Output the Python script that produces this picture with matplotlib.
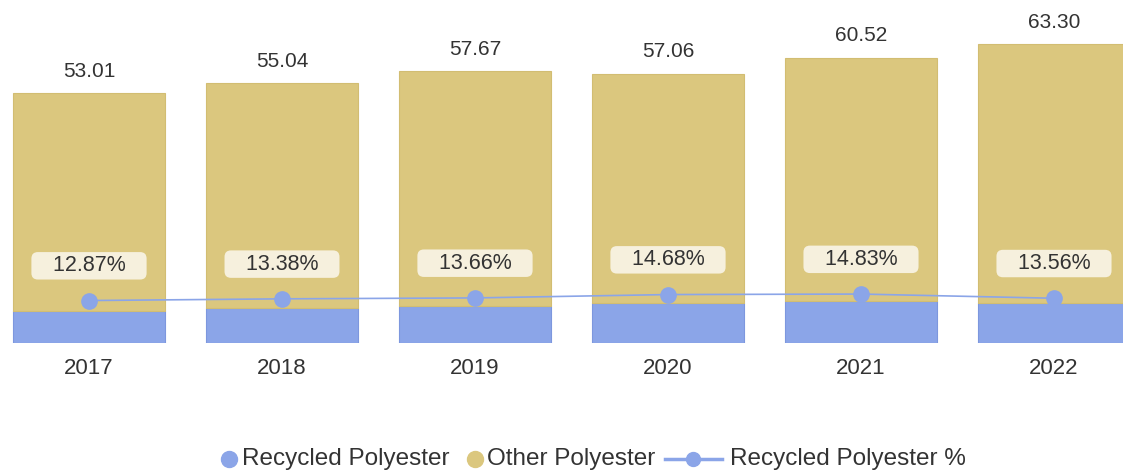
import numpy as np
import matplotlib.pyplot as plt
from matplotlib.lines import Line2D

plt.rcParams['font.family'] = ['Liberation Sans', 'DejaVu Sans']

# Data
years = ['2017', '2018', '2019', '2020', '2021', '2022']
totals = [53.01, 55.04, 57.67, 57.06, 60.52, 63.30]
recycled_pct = [12.87, 13.38, 13.66, 14.68, 14.83, 13.56]
legend_labels = ['Recycled Polyester', 'Other Polyester', 'Recycled Polyester %']

recycled = [t * p / 100 for t, p in zip(totals, recycled_pct)]
other = [t - r for t, r in zip(totals, recycled)]

blue = '#8ba5e8'
gold = '#dbc77e'
text_col = '#333333'

W, H = 1123, 473
fig = plt.figure(figsize=(W / 100, H / 100), dpi=100)
# axes area in pixels: bottom at y=343, top at y=0
ax = fig.add_axes([0, (H - 343) / H, 1, 343 / H])
ax2 = ax.twinx()

x = np.arange(len(years))
ax.bar(x, recycled, width=0.79, color=blue, edgecolor='#7d97de', lw=0.8)
ax.bar(x, other, bottom=recycled, width=0.79, color=gold, edgecolor='#d2bd72', lw=0.8)

for xi, t in zip(x, totals):
    ax.annotate(f'{t:.2f}', (xi, t), xytext=(0, 9), textcoords='offset points',
                ha='center', va='bottom', fontsize=15, color=text_col)

ax2.plot(x, recycled_pct, color=blue, lw=1.2, marker='o', ms=11, zorder=3)
for xi, p in zip(x, recycled_pct):
    ax2.annotate(f'   {p:.2f}%   ', (xi, p), xytext=(0, 25), textcoords='offset points',
                 ha='center', va='center', fontsize=15.5, color=text_col,
                 bbox=dict(boxstyle='round,pad=0.15,rounding_size=0.3',
                           fc='#f6f0dd', ec='none'))

ax.set_xlim(-89 / 193, (W - 89) / 193)
ax.set_ylim(0, 343 / 4.716)
ax2.set_ylim(0, 343 / 3.3)

ax.set_xticks(x)
ax.set_xticklabels(years, fontsize=16, color=text_col)
ax.tick_params(axis='x', length=0, pad=11)
ax.set_yticks([])
ax2.set_yticks([])
for a in (ax, ax2):
    for s in a.spines.values():
        s.set_visible(False)

# legend drawn by hand (pixel positions)
ly = 1 - 459 / H
fig.add_artist(Line2D([229 / W], [ly], ls='none', marker='o', ms=11.5, color=blue))
fig.text(242 / W, ly, legend_labels[0], ha='left', va='center', fontsize=17.5, color=text_col)
fig.add_artist(Line2D([475 / W], [ly], ls='none', marker='o', ms=11.5, color=gold))
fig.text(487 / W, ly, legend_labels[1], ha='left', va='center', fontsize=17.5, color=text_col)
fig.add_artist(Line2D([665 / W, 722 / W], [ly, ly], color=blue, lw=2.5))
fig.add_artist(Line2D([693 / W], [ly], ls='none', marker='o', ms=10, color=blue))
fig.text(730 / W, ly, legend_labels[2], ha='left', va='center', fontsize=17.5, color=text_col)

fig.savefig('out.png', dpi=100)
